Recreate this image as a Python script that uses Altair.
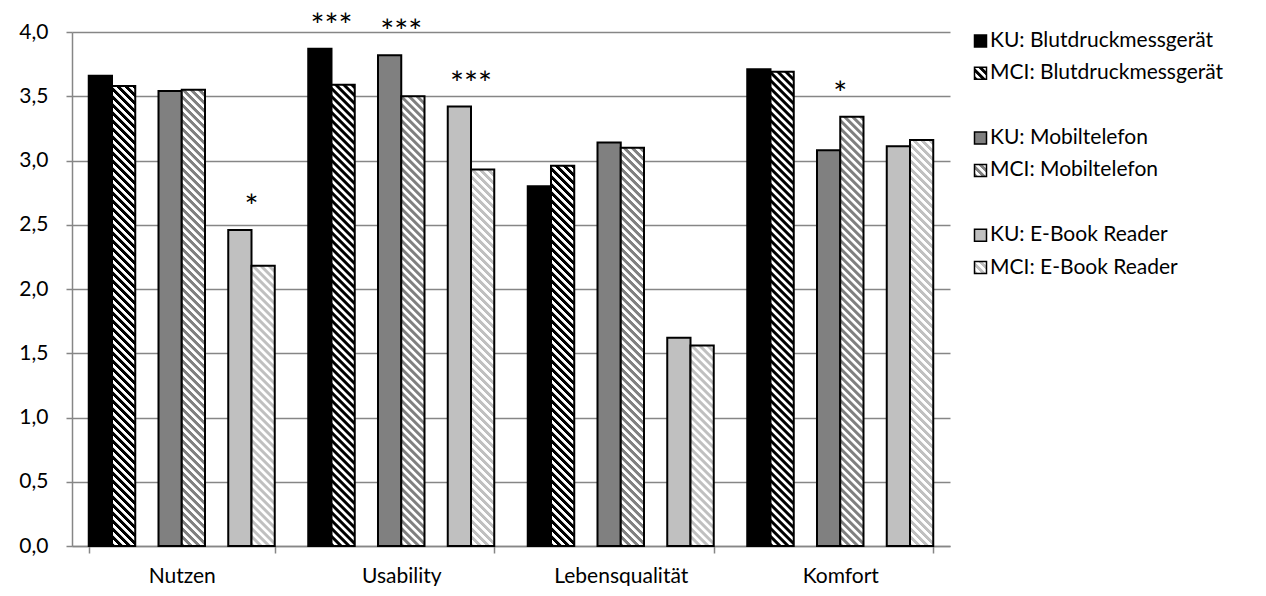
import altair as alt

# --- data -------------------------------------------------------------------
categories = ["Nutzen", "Usability", "Lebensqualität", "Komfort"]

ku_blutdruck = [3.66, 3.87, 2.80, 3.71]
mci_blutdruck = [3.58, 3.59, 2.96, 3.69]
ku_mobil = [3.54, 3.82, 3.14, 3.08]
mci_mobil = [3.55, 3.50, 3.10, 3.34]
ku_ebook = [2.46, 3.42, 1.62, 3.11]
mci_ebook = [2.18, 2.93, 1.56, 3.16]

series_names = [
    "KU: Blutdruckmessgerät", "MCI: Blutdruckmessgerät",
    "KU: Mobiltelefon", "MCI: Mobiltelefon",
    "KU: E-Book Reader", "MCI: E-Book Reader",
]
series_values = [ku_blutdruck, mci_blutdruck, ku_mobil, mci_mobil, ku_ebook, mci_ebook]

# significance markers: category, device pair, label
sig_category = ["Nutzen", "Usability", "Usability", "Usability", "Komfort"]
sig_device = ["E-Book Reader", "Blutdruckmessgerät", "Mobiltelefon", "E-Book Reader", "Mobiltelefon"]
sig_label = ["*", "***", "***", "***", "*"]

y_ticks = [0.0, 0.5, 1.0, 1.5, 2.0, 2.5, 3.0, 3.5, 4.0]

# --- styling ----------------------------------------------------------------
FONT = "Lato"
FS = 21
GRAY_LINE = "#868686"
device_color = {"Blutdruckmessgerät": "#000000", "Mobiltelefon": "#808080", "E-Book Reader": "#c0c0c0"}

PLOT_W, PLOT_H = 878, 514
Y_MAX = 4.0
PAD_INNER, PAD_OUTER = 0.1526, 0.0763

# eight slots per category: three pairs separated by two empty slots
slots = [
    "KU: Blutdruckmessgerät", "MCI: Blutdruckmessgerät", "_gap1",
    "KU: Mobiltelefon", "MCI: Mobiltelefon", "_gap2",
    "KU: E-Book Reader", "MCI: E-Book Reader",
]
step = PLOT_W / (len(categories) - PAD_INNER + 2 * PAD_OUTER)
slot_w = step * (1 - PAD_INNER) / len(slots)


def stripes(dark, light, w, h, period=8.0):
    """Linear gradient with hard-ish stops that draws 45° hatching on a w×h box."""
    s = (w + h) / (w * w + h * h)
    pt = period / (w + h)
    stops = []
    k = 0
    while k * pt < 1:
        for frac, col in ((0.0, dark), (0.4, dark), (0.52, light), (0.88, light)):
            off = k * pt + frac * pt
            if off <= 1:
                stops.append({"offset": round(off, 5), "color": col})
        k += 1
    return {"gradient": "linear", "x1": 0, "y1": 1,
            "x2": round(s * w, 5), "y2": round(1 - s * h, 5), "stops": stops}


def fill_for(name, w, h):
    group, device = name.split(": ")
    base = device_color[device]
    if group == "KU":
        return base
    return stripes(base, "#ffffff", w, h)


bar_rows = []
for name, vals in zip(series_names, series_values):
    for cat, v in zip(categories, vals):
        bar_rows.append({
            "category": cat, "slot": name, "value": v,
            "fill": fill_for(name, slot_w, v / Y_MAX * PLOT_H),
        })

sig_rows = []
for cat, dev, lab in zip(sig_category, sig_device, sig_label):
    ci = categories.index(cat)
    top = max(series_values[series_names.index("KU: " + dev)][ci],
              series_values[series_names.index("MCI: " + dev)][ci])
    sig_rows.append({"category": cat, "slot": "KU: " + dev, "value": top, "label": lab})

x_enc = alt.X(
    "category:N", sort=categories,
    scale=alt.Scale(paddingInner=PAD_INNER, paddingOuter=PAD_OUTER),
    axis=alt.Axis(title=None, labelAngle=0, labelFont=FONT, labelFontSize=FS, labelColor="#000000",
                  labelPadding=12, tickBand="extent", tickSize=7, tickColor=GRAY_LINE, tickWidth=1.5,
                  domainColor=GRAY_LINE, domainWidth=1.5, grid=False),
)
xoff_enc = alt.XOffset("slot:N", sort=slots,
                       scale=alt.Scale(domain=slots, paddingInner=0, paddingOuter=0))
y_enc = alt.Y(
    "value:Q", stack=None,
    scale=alt.Scale(domain=[0, Y_MAX], nice=False, zero=True),
    axis=alt.Axis(title=None, values=y_ticks,
                  labelExpr="replace(format(datum.value, '.1f'), '.', ',')",
                  labelFont=FONT, labelFontSize=FS, labelColor="#000000", labelPadding=18,
                  tickSize=6, tickColor=GRAY_LINE, tickWidth=1.5,
                  domainColor=GRAY_LINE, domainWidth=1.5,
                  grid=True, gridColor=GRAY_LINE, gridWidth=1.5),
)

bars = alt.Chart(alt.Data(values=bar_rows)).mark_bar(
    stroke="#000000", strokeWidth=2
).encode(
    x=x_enc, xOffset=xoff_enc, y=y_enc,
    fill=alt.Fill("fill:N", scale=None),
)

marks = alt.Chart(alt.Data(values=sig_rows)).mark_text(
    font=FONT, fontSize=33, color="#000000", baseline="middle", align="center",
    dx=slot_w / 2, dy=-22,
).encode(
    x=x_enc, xOffset=xoff_enc, y=y_enc, text="label:N",
)

main = alt.layer(bars, marks).properties(width=PLOT_W, height=PLOT_H)

# --- legend panel -------------------------------------------------------------
legend_rows = [
    "KU: Blutdruckmessgerät", "MCI: Blutdruckmessgerät", " ",
    "KU: Mobiltelefon", "MCI: Mobiltelefon", "  ",
    "KU: E-Book Reader", "MCI: E-Book Reader",
]
SW = 12
legend_data = [{"name": n, "fill": fill_for(n, SW, SW)} for n in series_names]
ly = alt.Y("name:N", scale=alt.Scale(type="point", domain=legend_rows, range=[9, 235.5], padding=0),
           axis=None)

swatch = alt.Chart(alt.Data(values=legend_data)).mark_square(
    size=SW * SW, stroke="#000000", strokeWidth=1.5, opacity=1
).encode(x=alt.value(6.5), y=ly, fill=alt.Fill("fill:N", scale=None))

legend_text = alt.Chart(alt.Data(values=legend_data)).mark_text(
    font=FONT, fontSize=FS, color="#000000", align="left", baseline="middle"
).encode(x=alt.value(16), y=ly, text="name:N")

legend = alt.layer(swatch, legend_text).properties(width=270, height=PLOT_H)

chart = alt.hconcat(main, legend, spacing=21).properties(
    padding={"left": 18, "top": 10, "right": 0, "bottom": 0},
    background="#ffffff",
).configure_view(stroke="transparent", strokeWidth=0)

chart.save("out.html", embed_options={"renderer": "svg", "actions": False})
